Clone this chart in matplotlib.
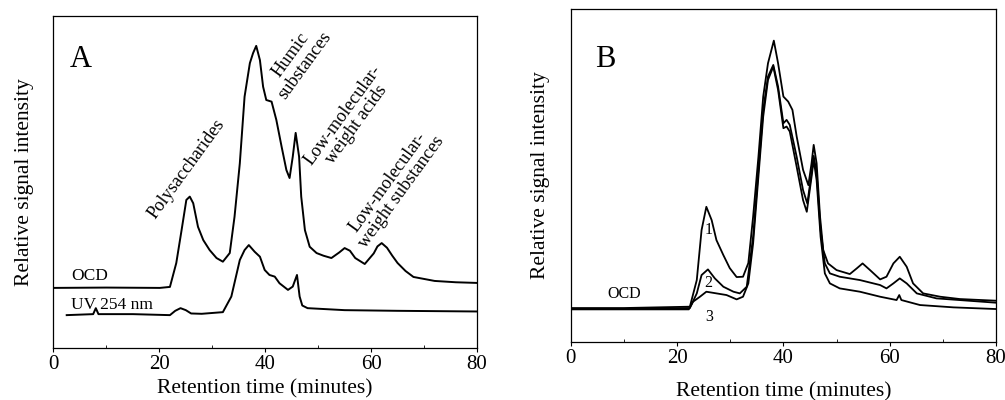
import matplotlib
matplotlib.use('Agg')
import matplotlib.pyplot as plt

plt.rcParams['font.family'] = ['Liberation Serif', 'DejaVu Serif']

# panel A - OCD trace (retention time in minutes, relative signal)
a_ocd_t = [0, 10, 20.1, 22.0, 23.2, 24.2, 25.1, 25.75, 26.4, 27.3, 28.3, 29.5, 30.8, 32.0, 33.3,
           34.2, 35.2, 36.1, 37.1, 37.7, 38.3, 39.0, 39.6, 40.2, 41.2, 42.1, 43.1, 44.0, 44.6,
           45.2, 45.75, 46.4, 46.8, 47.5, 48.4, 49.7, 51, 52.5, 54, 55, 56, 57, 58.8, 60.5, 61.2,
           62, 63, 64, 65, 66.5, 68, 72, 76, 80]
a_ocd_y = [18.1, 18.2, 18.1, 18.4, 25.6, 35.5, 44.6, 45.6, 43.6, 36.5, 32.5, 29.5, 27.1, 26.0,
           28.6, 39.5, 55.6, 75.7, 85.8, 88.8, 91.0, 86.7, 78.7, 74.7, 74.2, 68.7, 60.6, 53.6,
           51.2, 57.6, 64.8, 57.6, 45.6, 35.5, 30.5, 28.6, 27.8, 27.1, 28.8, 30.1, 29.3, 27.1,
           25.3, 28.5, 30.6, 31.6, 30.2, 27.8, 25.6, 23.2, 21.4, 20.2, 19.8, 19.6]

# panel A - UV 254 nm trace
a_uv_t = [2.5, 7.5, 8, 8.5, 15, 22, 23, 24, 25, 26, 28, 32, 33.6, 35.2, 36.1, 36.9, 38.0, 39.0,
          39.9, 40.8, 41.8, 42.7, 44.3, 45.2, 46.0, 46.5, 47, 48, 55, 65, 80]
a_uv_y = [9.9, 10.2, 12, 10.2, 10.2, 9.9, 11.2, 12.0, 11.4, 10.4, 10.3, 10.8, 15.5, 26.5, 29.5,
          31.0, 29.0, 27.5, 23.5, 22.0, 21.5, 19.5, 17.5, 18.5, 22.0, 15.5, 12.8, 12.0, 11.4,
          11.2, 11.0]

# panel B - trace 1
b1_t = [0, 10, 22.4, 23.7, 24.6, 25.5, 26.5, 27.4, 28.7, 29.9, 31.2, 32.4, 33.4, 34.3, 35.3,
        36.2, 37.1, 38.2, 39.0, 40.0, 40.9, 41.7, 42.5, 43.7, 44.7, 45.3, 45.7, 46.25, 46.9,
        47.5, 48.4, 50.0, 52.5, 53.8, 54.9, 56.3, 58.2, 59.4, 60.7, 61.9, 63.2, 64.4, 66.3,
        69.5, 73.2, 80]
b1_y = [10.2, 10.2, 10.6, 18.6, 33.6, 40.6, 36.6, 30.6, 26.1, 22.2, 19.5, 19.6, 23.7, 37.6,
        55.6, 73.7, 83.7, 90.5, 83.7, 73.7, 72.2, 69.7, 61.7, 51.7, 47.1, 53.7, 59.2, 53.7,
        37.6, 27.6, 23.6, 21.6, 20.4, 22.1, 23.6, 21.6, 18.8, 19.6, 23.6, 25.6, 22.6, 17.6,
        14.6, 13.6, 12.9, 12.4]

# panel B - trace 2
b2_t = [0, 10, 22.4, 23.7, 24.6, 25.8, 27.1, 28.7, 30.6, 31.8, 33.1, 34.3, 35.3, 36.2, 37.1,
        38.1, 39.0, 40.0, 40.6, 41.2, 42.5, 43.7, 44.5, 45.3, 45.7, 46.25, 47.0, 47.8, 48.75,
        50.6, 54.4, 58.2, 59.4, 60.7, 61.9, 63.2, 65.1, 68.8, 80]
b2_y = [9.9, 9.9, 10.2, 14.6, 20.1, 21.8, 19.1, 16.6, 15.1, 14.6, 16.6, 31.6, 51.7, 69.7, 79.7,
        83.2, 76.7, 65.7, 66.7, 65.2, 55.6, 45.6, 41.6, 50.7, 55.9, 50.7, 33.6, 23.6, 20.6,
        19.6, 18.6, 17.1, 16.1, 17.6, 19.1, 17.6, 14.6, 13.1, 11.8]

# panel B - trace 3
b3_t = [0, 10, 22.2, 23.0, 24.3, 25.5, 27.4, 29.3, 31.2, 32.4, 33.4, 34.3, 35.3, 36.2, 37.1,
        38.1, 39.0, 40.0, 40.6, 41.2, 42.5, 43.7, 44.4, 45.3, 45.7, 46.25, 47.0, 47.8, 48.75,
        50.6, 54.4, 58.2, 61.3, 61.8, 62.2, 65.7, 72.0, 80]
b3_y = [9.8, 9.8, 9.8, 12.1, 13.6, 15.1, 14.6, 14.1, 12.8, 13.6, 17.6, 29.6, 49.7, 67.7, 78.7,
        82.7, 75.7, 64.2, 64.7, 63.2, 52.6, 42.6, 39.1, 49.6, 54.7, 48.6, 31.6, 20.6, 17.6,
        16.1, 15.1, 13.6, 12.6, 14.1, 12.6, 11.1, 10.4, 9.9]

ticks = [0, 20, 40, 60, 80]

fig = plt.figure(figsize=(10.05, 4.0), dpi=100)
axA = fig.add_axes([0.0532, 0.13, 0.4214, 0.83])
axB = fig.add_axes([0.568, 0.145, 0.423, 0.8325])

for ax, lp, yp in ((axA, 3.5, 14), (axB, 10, 15)):
    ax.set_xlim(0, 80)
    ax.set_ylim(0, 100)
    ax.set_xticks(ticks)
    ax.set_xticks([10, 30, 50, 70], minor=True)
    ax.set_yticks([])
    ax.tick_params(axis='x', which='major', direction='out', length=3, labelsize=15, pad=2)
    ax.tick_params(axis='x', which='minor', direction='in', length=2)
    ax.set_xlabel('Retention time (minutes)', fontsize=15.5, labelpad=lp)
    ax.set_ylabel('Relative signal intensity', fontsize=15.5, labelpad=yp)
    for s in ax.spines.values():
        s.set_linewidth(0.9)

# panel A
axA.plot(a_ocd_t, a_ocd_y, color='black', lw=1.4)
axA.plot(a_uv_t, a_uv_y, color='black', lw=1.4)
axA.text(3.1, 84.6, 'A', fontsize=22)
axA.text(3.3, 20.5, 'OCD', fontsize=12.5)
axA.text(3.3, 11.6, 'UV 254 nm', fontsize=12.5)
ann = [('Polysaccharides', 25.1, 53.8),
       ('Humic\nsubstances', 46.1, 86.7),
       ('Low-molecular-\nweight acids', 56.0, 68.7),
       ('Low-molecular-\nweight substances', 64.4, 48.5)]
for txt, x, y in ann:
    axA.text(x, y, txt, fontsize=13.2, rotation=54, ha='center', va='center',
             rotation_mode='anchor', multialignment='center', linespacing=1.0)

# panel B
for ty, yy in ((b1_t, b1_y), (b2_t, b2_y), (b3_t, b3_y)):
    axB.plot(ty, yy, color='black', lw=1.3)
axB.text(4.5, 82.6, 'B', fontsize=22)
axB.text(6.8, 13.2, 'OCD', fontsize=11.5)
axB.text(26, 33.6, '1', fontsize=11.5, ha='center', va='center')
axB.text(25.8, 17.7, '2', fontsize=11.5, ha='center', va='center')
axB.text(26, 7.5, '3', fontsize=11.5, ha='center', va='center')

fig.savefig('out.png', dpi=100)
